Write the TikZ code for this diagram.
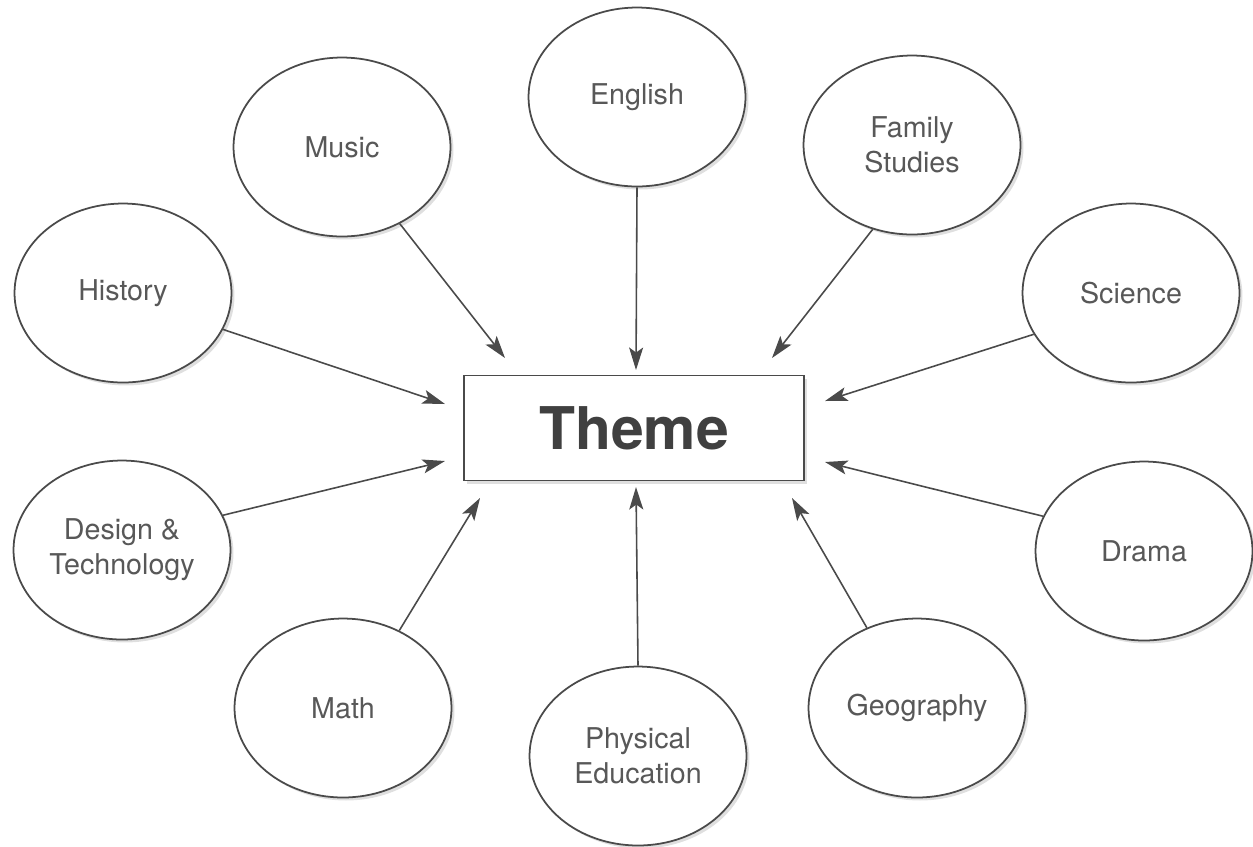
\documentclass[tikz,border=0pt]{standalone}
\usepackage{fontspec}
\setmainfont{TeX Gyre Heros}
\usetikzlibrary{shapes.geometric,arrows.meta,shadows}
\definecolor{linegray}{HTML}{4A4A4A}
\definecolor{textgray}{HTML}{585858}
\tikzset{
  subject/.style={ellipse,draw=linegray,line width=1pt,fill=white,
    minimum width=4.34cm,minimum height=3.58cm,inner sep=0pt,align=center,
    text=textgray,font=\fontsize{16.3}{20}\selectfont,
    drop shadow={shadow xshift=.06cm,shadow yshift=-.06cm,opacity=.25}},
  themebox/.style={rectangle,draw=linegray,line width=1pt,fill=white,
    minimum width=6.8cm,minimum height=2.1cm,inner sep=0pt,
    text=black!75,font=\fontsize{33.5}{36}\selectfont\bfseries,
    drop shadow={shadow xshift=.06cm,shadow yshift=-.06cm,opacity=.25}},
  feed/.style={draw=linegray,line width=.9pt,
    -{Stealth[length=.45cm,width=.28cm,inset=.1cm]}}
}
\begin{document}
\begin{tikzpicture}[x=.02cm,y=-.02cm]
\useasboundingbox(0,0)rectangle(1253,846);
% centre box
\node[themebox](theme)at(634,428){Theme};
% subjects round it
\node[subject](english)at(637,97){English};
\node[subject](music)at(342,147){Music};
\node[subject](family)at(912,145){Family\\Studies};
\node[subject](history)at(123,293){History};
\node[subject](science)at(1131,293){Science};
\node[subject](design)at(122,550){Design \&\\Technology};
\node[subject](drama)at(1144,551){Drama};
\node[subject](math)at(343,708){Math};
\node[subject](pe)at(638,756){Physical\\Education};
\node[subject](geo)at(917,708){Geography};
% arrow tips, just short of the box
\coordinate(tEnglish)at(636,370);
\coordinate(tMusic)at(505,358);
\coordinate(tFamily)at(772,358);
\coordinate(tHistory)at(445,404);
\coordinate(tScience)at(825,401);
\coordinate(tDesign)at(445,461);
\coordinate(tDrama)at(825,462);
\coordinate(tMath)at(480,498);
\coordinate(tPE)at(636,487);
\coordinate(tGeo)at(792,498);
\draw[feed](english.270)--(tEnglish);
\draw[feed](music.307)--(tMusic);
\draw[feed](family.245)--(tFamily);
\draw[feed](history.340)--(tHistory);
\draw[feed](science.203)--(tScience);
\draw[feed](design.19)--(tDesign);
\draw[feed](drama.161)--(tDrama);
\draw[feed](math.54)--(tMath);
\draw[feed](pe.90)--(tPE);
\draw[feed](geo.122)--(tGeo);
\end{tikzpicture}
\end{document}
